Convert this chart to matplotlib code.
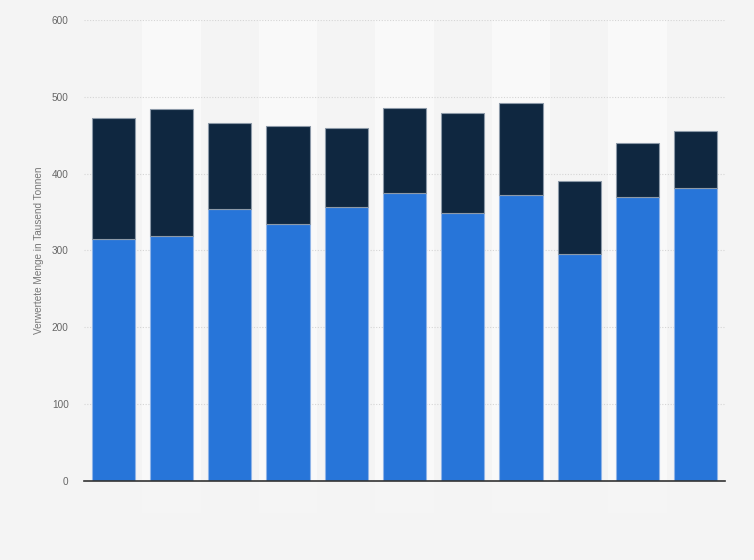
import matplotlib.pyplot as plt
import numpy as np

# values (thousand tonnes)
bottom_vals = [315, 319, 354, 334, 356, 375, 349, 372, 296, 369, 381]
totals = [472, 484, 466, 462, 460, 485, 479, 492, 391, 440, 455]
top_vals = [t - b for t, b in zip(totals, bottom_vals)]
yticks = [0, 100, 200, 300, 400, 500, 600]

plt.rcParams['font.family'] = ['Liberation Sans', 'DejaVu Sans']

fig = plt.figure(figsize=(7.54, 5.6), dpi=100)
fig.patch.set_facecolor("#f4f4f4")
ax = fig.add_axes([0.1114, 0.1411, 0.8501, 0.8232])
ax.set_facecolor("#f4f4f4")

x = np.arange(len(bottom_vals))

# alternating column bands
for i in x:
    if i % 2 == 1:
        ax.axvspan(i - 0.5, i + 0.5, color="#f9f9f9", zorder=0, lw=0)
        ax.axvspan(i - 0.5, i + 0.5, ymin=-0.07, ymax=0, color="#f5f5f5",
                   zorder=0, clip_on=False, lw=0)

ax.bar(x, bottom_vals, width=0.74, color="#2775d9", edgecolor="#8fb4e8",
       linewidth=0.8, zorder=3)
ax.bar(x, top_vals, width=0.74, bottom=bottom_vals, color="#0f2740",
       edgecolor="#8c99a8", linewidth=0.8, zorder=3)

ax.set_xlim(-0.5, len(x) - 0.5)
ax.set_ylim(0, 600)
ax.set_yticks(yticks)
ax.set_yticklabels([str(v) for v in yticks], fontsize=7.2, color="#666666")
ax.set_xticks([])
ax.tick_params(axis="y", length=0, pad=11)
ax.yaxis.grid(True, linestyle=(0, (1, 1.5)), color="#d5d5d5", linewidth=0.8, zorder=1)
ax.set_axisbelow(True)

for side in ["top", "right", "left"]:
    ax.spines[side].set_visible(False)
ax.spines["bottom"].set_color("#333333")
ax.spines["bottom"].set_linewidth(1.2)
ax.spines["bottom"].set_zorder(4)

ax.set_ylabel("Verwertete Menge in Tausend Tonnen", fontsize=7.2, color="#777777",
              labelpad=6)

fig.savefig("out.png", dpi=100, facecolor=fig.get_facecolor())
